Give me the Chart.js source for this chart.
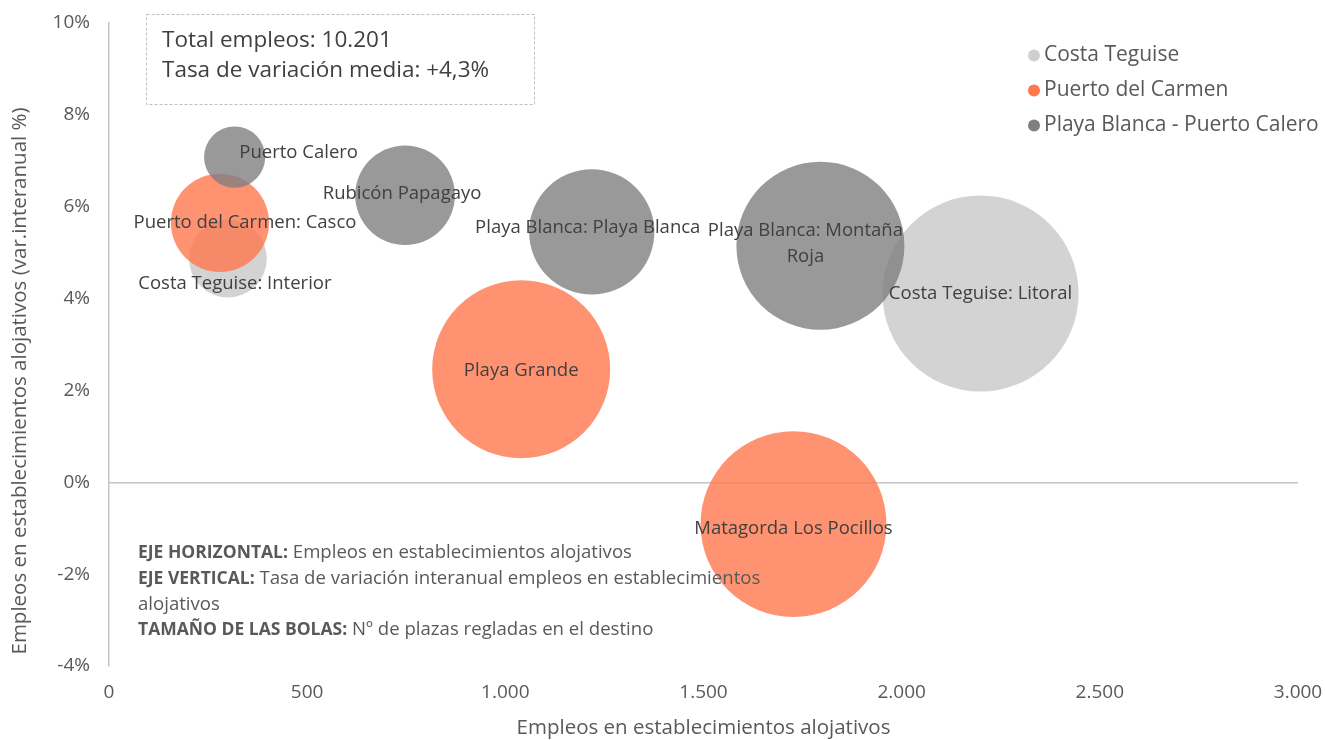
<!DOCTYPE html>
<html lang="es">
<head>
<meta charset="utf-8">
<title>Empleos en establecimientos alojativos</title>
<script src="https://cdn.jsdelivr.net/npm/chart.js@4/dist/chart.umd.min.js"></script>
<style>
  html, body { margin: 0; padding: 0; background: #fff; }
  #wrap { width: 1325px; height: 740px; }
</style>
</head>
<body>
<div id="wrap"><canvas id="chart"></canvas></div>
<script>
// Costa Teguise
const costaNames = ['Costa Teguise: Interior', 'Costa Teguise: Litoral'];
const costaEmpleos = [300, 2199];
const costaVar = [4.87, 4.11];
const costaPlazas = [4200, 26700];

// Puerto del Carmen
const carmenNames = ['Puerto del Carmen: Casco', 'Playa Grande', 'Matagorda Los Pocillos'];
const carmenEmpleos = [280, 1040, 1727];
const carmenVar = [5.65, 2.46, -0.91];
const carmenPlazas = [6700, 22000, 24000];

// Playa Blanca - Puerto Calero
const blancaNames = ['Puerto Calero', 'Rubicón Papagayo', 'Playa Blanca: Playa Blanca', 'Playa Blanca: Montaña Roja'];
const blancaEmpleos = [317, 747, 1218, 1795];
const blancaVar = [7.08, 6.25, 5.45, 5.15];
const blancaPlazas = [2600, 6900, 10900, 19600];

const xTicks = [0, 500, 1000, 1500, 2000, 2500, 3000];
const yTicks = [-4, -2, 0, 2, 4, 6, 8, 10];

// label nudges (px) so the texts sit like in the original
const costaShift = [[7, 25], [0, 0]];
const carmenShift = [[25, 0], [0, 1], [0, 5]];
const blancaShift = [[64, -4], [-3, -1], [-4, -4], [-15, -2]];
const wrapped = { 'Playa Blanca: Montaña Roja': ['Playa Blanca: Montaña', 'Roja'] };

const FONT = "'Open Sans', 'Noto Sans', sans-serif";
const radiusOf = p => Math.sqrt(p) * 0.6;

function points(xs, ys, ps) {
  return xs.map((x, i) => ({ x: x, y: ys[i], r: radiusOf(ps[i]) }));
}

function thousands(v) {
  return String(v).replace(/\B(?=(\d{3})+(?!\d))/g, '.');
}

const groups = [
  { label: 'Costa Teguise', names: costaNames, shift: costaShift, fill: 'rgba(201,200,201,0.8)', mark: '#cfcfcf',
    data: points(costaEmpleos, costaVar, costaPlazas), order: 3 },
  { label: 'Puerto del Carmen', names: carmenNames, shift: carmenShift, fill: 'rgba(255,119,76,0.8)', mark: '#ff774c',
    data: points(carmenEmpleos, carmenVar, carmenPlazas), order: 2 },
  { label: 'Playa Blanca - Puerto Calero', names: blancaNames, shift: blancaShift, fill: 'rgba(127,127,127,0.8)', mark: '#7f7f7f',
    data: points(blancaEmpleos, blancaVar, blancaPlazas), order: 1 }
];

const extras = {
  id: 'extras',
  afterDatasetsDraw(chart) {
    const ctx = chart.ctx;
    ctx.save();
    ctx.font = '18.5px ' + FONT;
    ctx.fillStyle = '#404040';
    ctx.textAlign = 'center';
    ctx.textBaseline = 'middle';
    groups.forEach((g, di) => {
      const meta = chart.getDatasetMeta(di);
      meta.data.forEach((pt, i) => {
        const name = g.names[i];
        const lines = wrapped[name] || [name];
        const cx = pt.x + g.shift[i][0];
        const cy = pt.y + g.shift[i][1];
        const lh = 26;
        lines.forEach((ln, k) => {
          ctx.fillText(ln, cx, cy + (k - (lines.length - 1) / 2) * lh);
        });
      });
    });
    ctx.restore();
  },
  afterDraw(chart) {
    const ctx = chart.ctx;
    ctx.save();

    // vertical axis title (sits a bit lower than the plot centre in the original)
    ctx.save();
    ctx.translate(20, 381);
    ctx.rotate(-Math.PI / 2);
    ctx.font = '20.5px ' + FONT;
    ctx.fillStyle = '#595959';
    ctx.textAlign = 'center';
    ctx.textBaseline = 'middle';
    ctx.fillText('Empleos en establecimientos alojativos (var.interanual %)', 0, 0);
    ctx.restore();

    // dashed info box
    ctx.strokeStyle = '#bfbfbf';
    ctx.lineWidth = 1;
    ctx.setLineDash([3, 2]);
    ctx.strokeRect(146.5, 14.5, 388, 90);
    ctx.setLineDash([]);
    ctx.fillStyle = '#404040';
    ctx.font = '22.5px ' + FONT;
    ctx.textAlign = 'left';
    ctx.textBaseline = 'middle';
    ctx.fillText('Total empleos: 10.201', 162, 41);
    ctx.fillText('Tasa de variación media: +4,3%', 162, 71);

    // axis notes
    const notes = [
      ['EJE HORIZONTAL:', ' Empleos en establecimientos alojativos'],
      ['EJE VERTICAL:', ' Tasa de variación interanual empleos en establecimientos'],
      ['', 'alojativos'],
      ['TAMAÑO DE LAS BOLAS:', ' Nº de plazas regladas en el destino']
    ];
    ctx.fillStyle = '#595959';
    notes.forEach((n, i) => {
      const y = 553 + i * 25.7;
      let x = 138;
      ctx.font = 'bold 17.5px ' + FONT;
      ctx.fillText(n[0], x, y);
      x += ctx.measureText(n[0]).width;
      ctx.font = '18.6px ' + FONT;
      ctx.fillText(n[1], x, y);
    });

    // legend
    ctx.font = '21px ' + FONT;
    groups.forEach((g, i) => {
      const y = 55.5 + i * 35;
      ctx.fillStyle = g.mark;
      ctx.beginPath();
      ctx.arc(1034, y, 6, 0, Math.PI * 2);
      ctx.fill();
      ctx.fillStyle = '#595959';
      ctx.fillText(g.label, 1044, y);
    });
    ctx.restore();
  }
};

new Chart(document.getElementById('chart'), {
  type: 'bubble',
  data: {
    datasets: groups.map(g => ({
      label: g.label,
      data: g.data,
      backgroundColor: g.fill,
      borderWidth: 0,
      hoverBorderWidth: 0,
      order: g.order
    }))
  },
  options: {
    responsive: true,
    maintainAspectRatio: false,
    animation: false,
    events: [],
    layout: { autoPadding: false, padding: { top: 23, right: 27, left: 0, bottom: 0 } },
    plugins: {
      legend: { display: false },
      tooltip: { enabled: false }
    },
    scales: {
      x: {
        type: 'linear',
        min: 0,
        max: 3000,
        afterBuildTicks: s => { s.ticks = xTicks.map(v => ({ value: v })); },
        afterFit: s => { s.height = 74; s.paddingLeft = 0; s.paddingRight = 0; },
        grid: { display: false },
        border: { display: false },
        ticks: {
          padding: 7,
          color: '#595959',
          font: { family: FONT, size: 19 },
          callback: v => thousands(v)
        },
        title: {
          display: true,
          text: 'Empleos en establecimientos alojativos',
          color: '#595959',
          font: { family: FONT, size: 20.5 },
          padding: { top: 0, bottom: 0 }
        }
      },
      y: {
        type: 'linear',
        min: -4,
        max: 10,
        afterBuildTicks: s => { s.ticks = yTicks.map(v => ({ value: v })); },
        afterFit: s => { s.width = 109; s.paddingTop = 0; s.paddingBottom = 0; },
        grid: {
          drawTicks: false,
          lineWidth: 1.5,
          color: c => (c.tick && c.tick.value === 0) ? '#c4c4c4' : 'rgba(0,0,0,0)'
        },
        border: { display: true, color: '#c4c4c4', width: 1.5 },
        ticks: {
          padding: 19,
          color: '#595959',
          font: { family: FONT, size: 19 },
          callback: v => v + '%'
        }
      }
    }
  },
  plugins: [extras]
});
</script>
</body>
</html>
